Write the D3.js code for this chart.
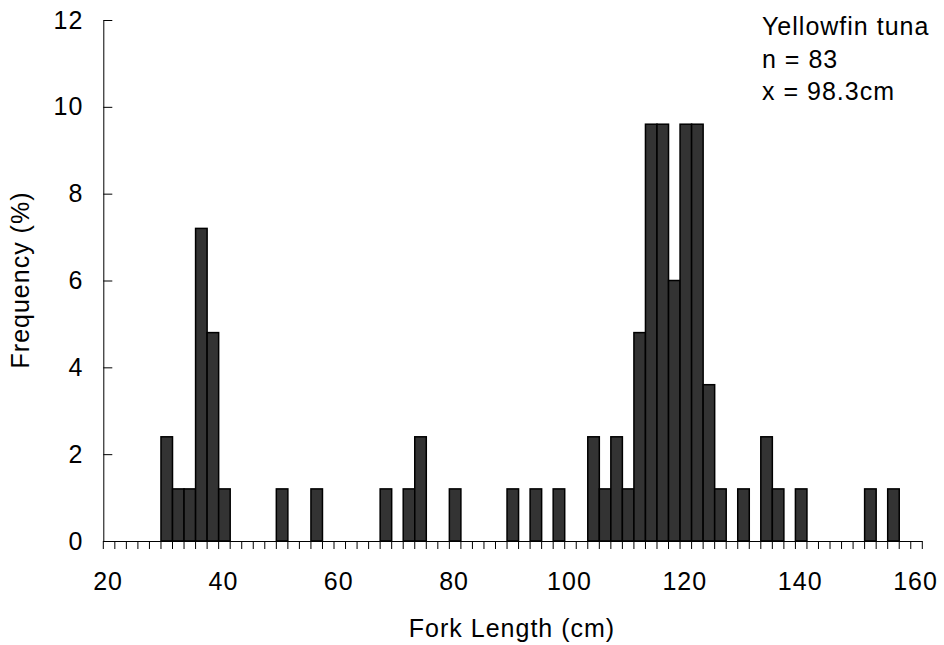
<!DOCTYPE html>
<html>
<head>
<meta charset="utf-8">
<script src="https://cdn.jsdelivr.net/npm/d3@7"></script>
<style>
body { margin: 0; background: #fff; }
text { font-family: "Liberation Sans", Arial, sans-serif; fill: #000; letter-spacing: 1px; }
</style>
</head>
<body>
<div id="chart"></div>
<script>
// 2 cm fork length classes that have fish, and their share in %
var lengthClasses = [30, 32, 34, 36, 38, 40, 50, 56, 68, 72, 74, 80, 90, 94, 98,
    104, 106, 108, 110, 112, 114, 116, 118, 120, 122, 124, 126, 130, 134, 136, 140, 152, 156];
var frequency = [2.4, 1.2, 1.2, 7.2, 4.8, 1.2, 1.2, 1.2, 1.2, 1.2, 2.4, 1.2, 1.2, 1.2, 1.2,
    2.4, 1.2, 2.4, 1.2, 4.8, 9.6, 9.6, 6.0, 9.6, 9.6, 3.6, 1.2, 1.2, 2.4, 1.2, 1.2, 1.2, 1.2];
var xTickLabels = [20, 40, 60, 80, 100, 120, 140, 160];
var yTickLabels = [0, 2, 4, 6, 8, 10, 12];
var infoLines = ["Yellowfin tuna", "n = 83", "x = 98.3cm"];

var margin = { top: 20, right: 21.7, bottom: 104, left: 103.3 },
    width = 944 - margin.left - margin.right,
    height = 645 - margin.top - margin.bottom;

var data = lengthClasses.map(function (c, i) { return { cls: c, freq: frequency[i] }; });

// category axis: every 2 cm class from 20 to 160
var categories = d3.range(20, 161, 2);

var x = d3.scaleBand().domain(categories).range([0, width]).padding(0);
var y = d3.scaleLinear().domain([0, 12]).range([height, 0]);

var svg = d3.select("#chart").append("svg")
    .attr("width", 944)
    .attr("height", 645)
    .append("g")
    .attr("transform", "translate(" + margin.left + "," + margin.top + ")");

// bars
svg.selectAll(".bar")
    .data(data)
    .enter().append("rect")
    .attr("class", "bar")
    .attr("x", function (d) { return x(d.cls); })
    .attr("width", x.bandwidth())
    .attr("y", function (d) { return y(d.freq); })
    .attr("height", function (d) { return height - y(d.freq); })
    .attr("fill", "#333333")
    .attr("stroke", "#000")
    .attr("stroke-width", 1.5);

// y axis, ticks pointing inward
var yAxis = d3.axisLeft(y).tickValues(yTickLabels).tickSizeInner(-9).tickSizeOuter(0).tickPadding(20);
var gy = svg.append("g").attr("class", "y axis").call(yAxis);
gy.select(".domain").attr("stroke", "#000");
gy.selectAll("text").style("font-size", "25px");

// x axis: baseline and boundary ticks between classes
svg.append("line")
    .attr("x1", 0).attr("x2", width)
    .attr("y1", height + 0.5).attr("y2", height + 0.5)
    .attr("stroke", "#000");

svg.selectAll(".xtick")
    .data(categories.concat([null]))
    .enter().append("line")
    .attr("class", "xtick")
    .attr("x1", function (d) { return d === null ? width : x(d); })
    .attr("x2", function (d) { return d === null ? width : x(d); })
    .attr("y1", height)
    .attr("y2", height + 8)
    .attr("stroke", "#000");

var xAxis = d3.axisBottom(x).tickValues(xTickLabels).tickSize(0).tickPadding(31);
var gx = svg.append("g").attr("class", "x axis")
    .attr("transform", "translate(0," + height + ")")
    .call(xAxis);
gx.select(".domain").remove();
gx.selectAll("text").style("font-size", "25px").attr("dx", "-1px");

// axis titles
svg.append("text")
    .attr("x", 512 - margin.left)
    .attr("y", 637 - margin.top)
    .attr("text-anchor", "middle")
    .style("font-size", "25px")
    .text("Fork Length (cm)");

svg.append("text")
    .attr("transform", "rotate(-90)")
    .attr("x", -(280 - margin.top))
    .attr("y", 29 - margin.left)
    .attr("text-anchor", "middle")
    .style("font-size", "25px")
    .text("Frequency (%)");

// info text
svg.selectAll(".info")
    .data(infoLines)
    .enter().append("text")
    .attr("class", "info")
    .attr("x", 762 - margin.left)
    .attr("y", function (d, i) { return 35 + i * 32.5 - margin.top; })
    .style("font-size", "25px")
    .text(function (d) { return d; });
</script>
</body>
</html>
